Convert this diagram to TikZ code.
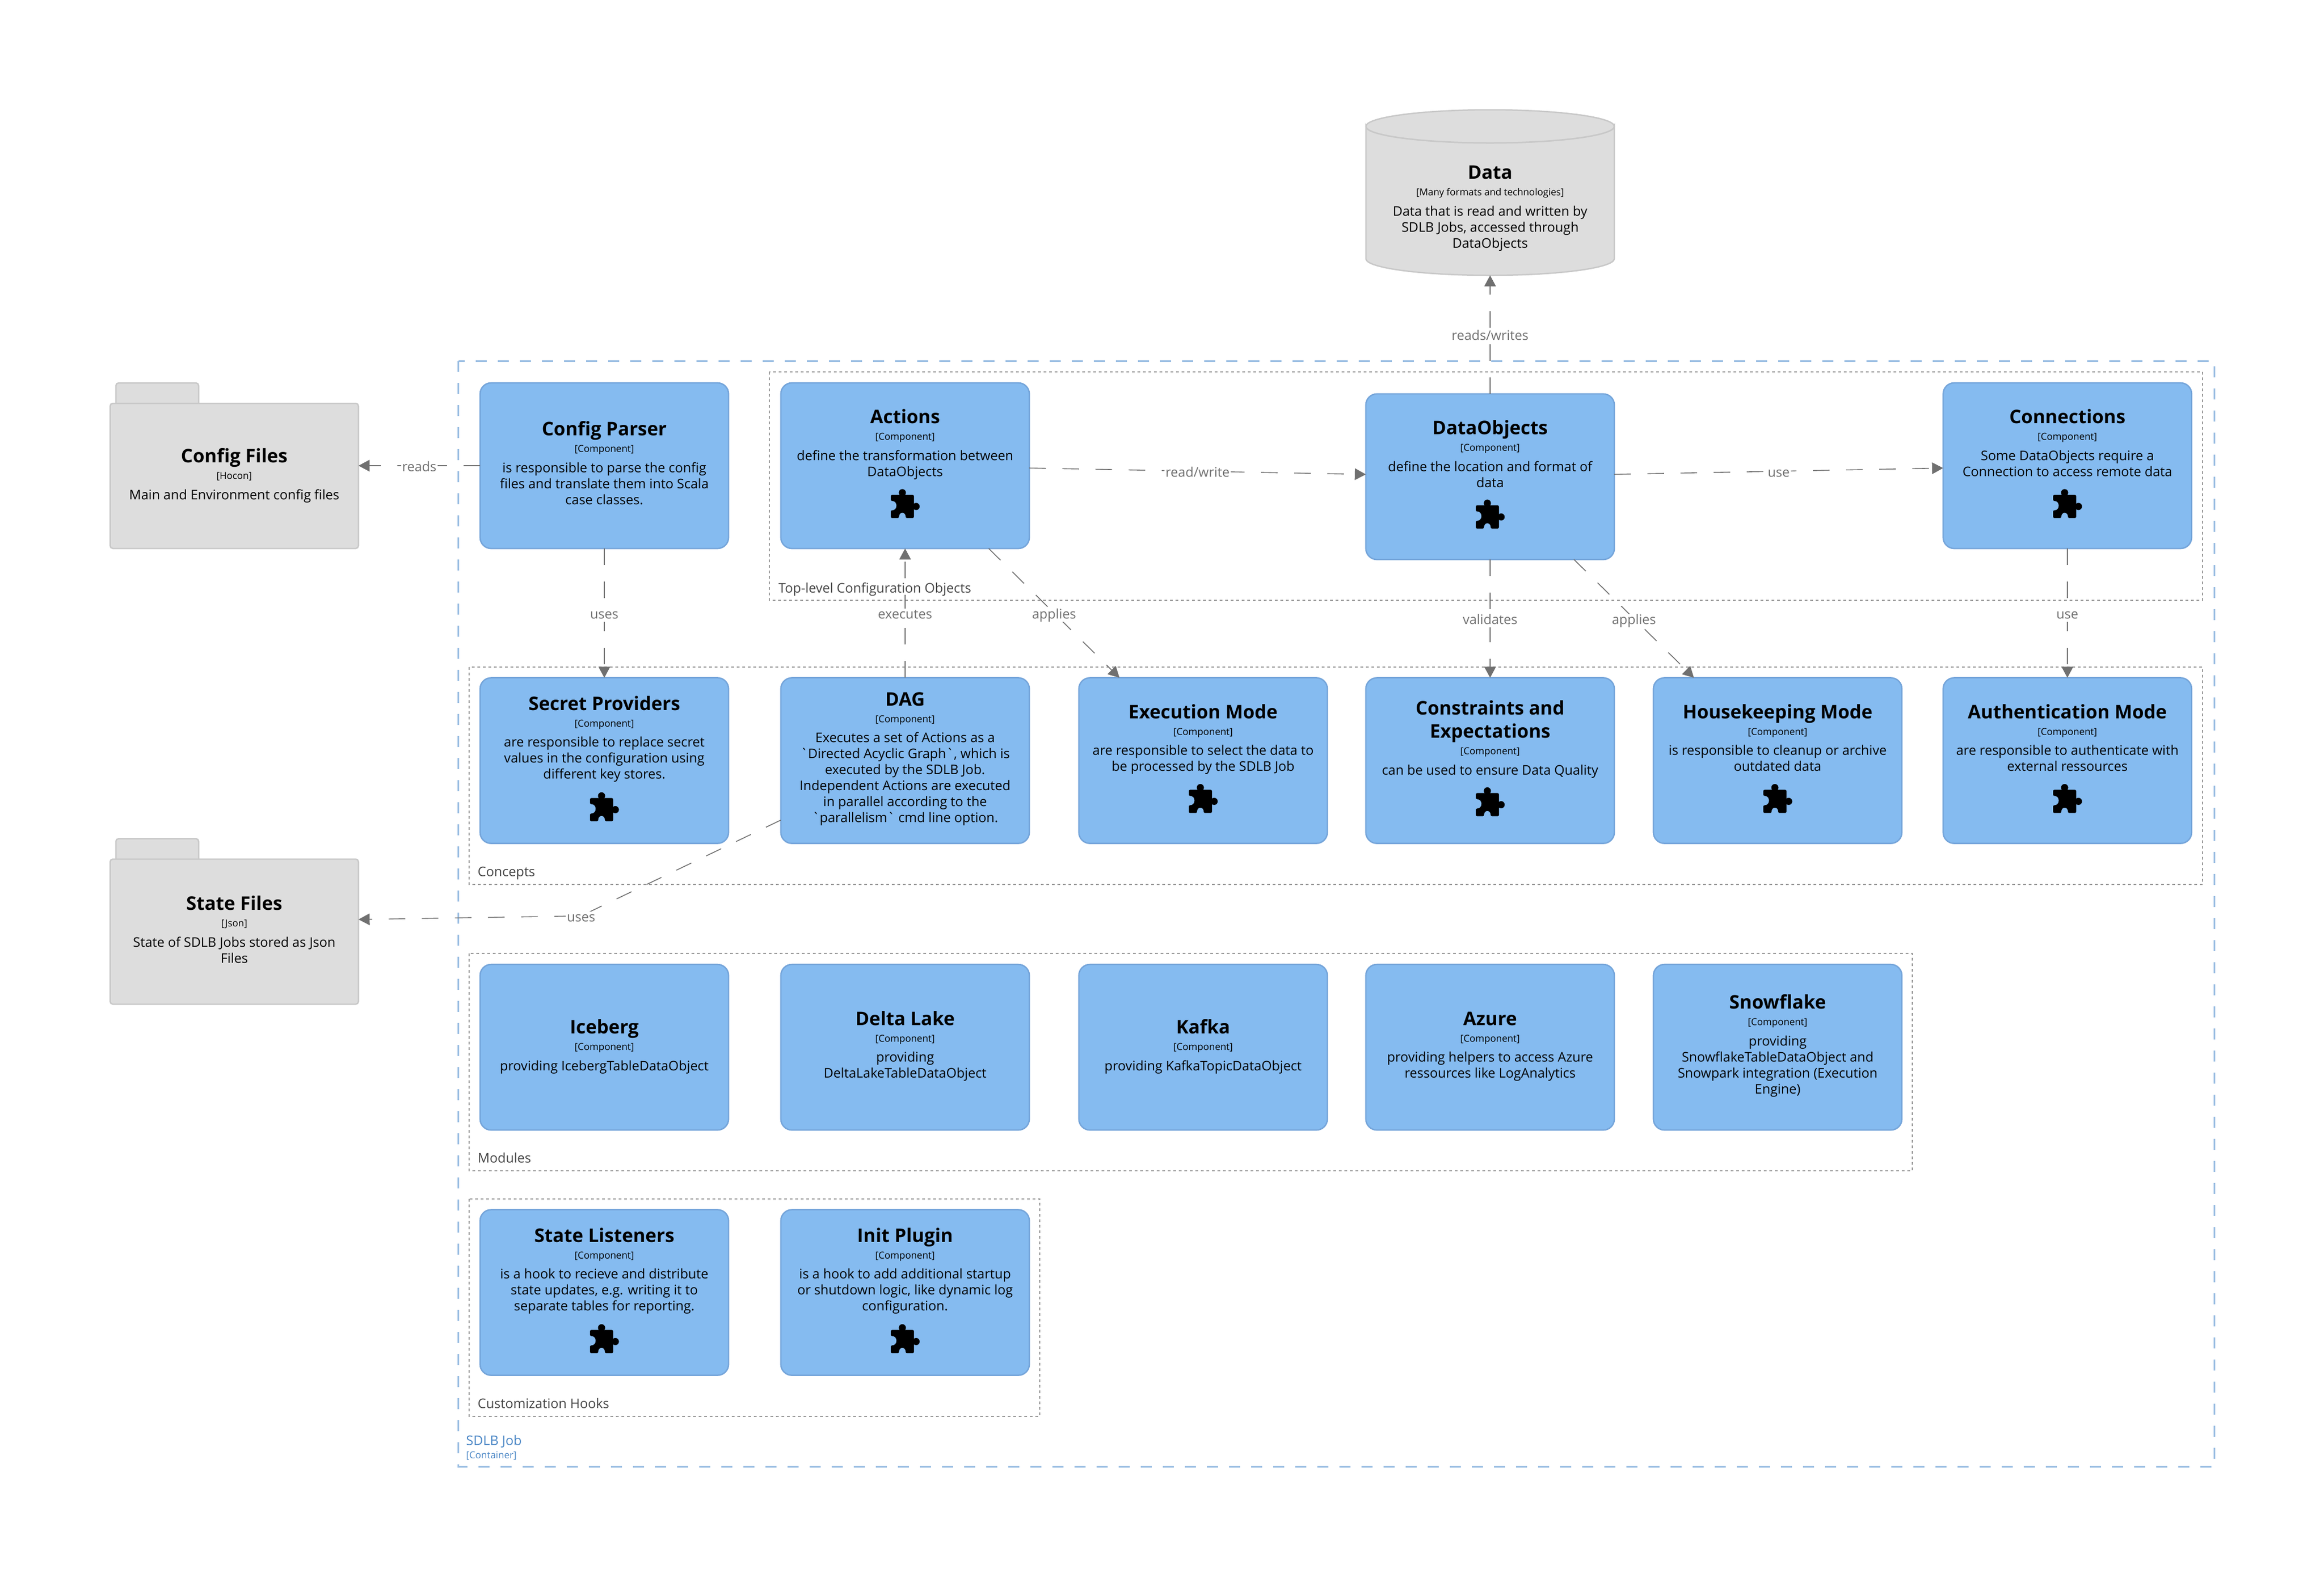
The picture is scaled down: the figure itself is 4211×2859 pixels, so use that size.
\documentclass[tikz,border=0pt]{standalone}
\usepackage{fontspec}
\setmainfont{Open Sans}
\usetikzlibrary{arrows.meta,calc}
\definecolor{compfill}{HTML}{85BBF0}
\definecolor{compline}{HTML}{75A5DA}
\definecolor{extfill}{HTML}{DDDDDD}
\definecolor{extline}{HTML}{C8C8C8}
\definecolor{relcol}{HTML}{707070}
\definecolor{contline}{HTML}{9CBFE3}
\definecolor{conttext}{HTML}{4A86C5}
\definecolor{grpline}{HTML}{999999}
\definecolor{grptext}{HTML}{444444}
\newdimen\pxu \pxu=0.01cm
\newcommand{\ftitle}{\fontsize{9.67}{11.95}\selectfont\bfseries}
\newcommand{\ftech}{\fontsize{4.95}{8.54}\selectfont}
\newcommand{\fdesc}{\fontsize{6.83}{8.25}\selectfont}
\newcommand{\flabel}{\fontsize{6.83}{8.25}\selectfont}
% #1 distance from the top of the element to the title's centre, #2 title, #3 tech, #4 description
\newcommand{\elbody}[4]{\parbox[c][3cm][t]{4.5cm}{\centering\lineskiplimit=-100pt
  \vspace*{\dimexpr #1\pxu-18\pxu\relax}%
  {\ftitle\rule{0pt}{30\pxu}#2\par}%
  {\ftech #3\par}\vspace{2pt}%
  {\fdesc #4\par}}}
\tikzset{
  x=0.01cm,y=-0.01cm,
  compbox/.style={draw=compline,fill=compfill,line width=2.5\pxu,rounded corners=0.2cm,
    minimum width=4.5cm,minimum height=3cm,inner sep=0pt,outer sep=0pt},
  extnode/.style={minimum width=4.5cm,minimum height=3cm,inner sep=0pt,outer sep=0pt},
  extshape/.style={draw=extline,fill=extfill,line width=2.5\pxu,rounded corners=0.05cm},
  contbox/.style={draw=contline,line width=3\pxu,dash pattern=on 20\pxu off 20\pxu},
  grpbox/.style={draw=grpline,line width=2\pxu,dash pattern=on 5\pxu off 5\pxu},
  grplabel/.style={anchor=base west,inner sep=0pt,text=grptext,font=\flabel},
  rel/.style={draw=relcol,line width=1.6\pxu,dash pattern=on 30\pxu off 30\pxu,
    -{Triangle[length=0.2cm,width=0.21cm]},color=relcol},
  rellabel/.style={fill=white,inner xsep=2\pxu,inner ysep=0pt,text=relcol,font=\flabel,
    text height=18\pxu,text depth=6\pxu,yshift=-4\pxu},
  pics/puzzle/.style={code={
    \fill[black,rounded corners=2.5\pxu] (-26,-16) -- (16,-16) -- (16,26) -- (1,26)
      .. controls (1,14) and (-11,14) .. (-11,26) -- (-26,26) -- (-26,12)
      .. controls (-13,12) and (-13,-5) .. (-26,-5) -- cycle;
    \fill[black] (-5,-20) circle[radius=6.5];
    \fill[black] (20,5) circle[radius=6.5];
  }},
}
\newcommand{\comp}[6][Component]{\node[compbox] (#2) at (#3) {\elbody{#4}{#5}{[#1]}{#6}};}
\newcommand{\puz}[2]{\pic at ($(#1.north)+(0,#2)$) {puzzle};}
\newcommand{\folder}[7]{%
  \draw[extshape] (#2-214.5,#3-150) rectangle (#2-64.5,#3-100);
  \draw[extshape] (#2-225,#3-113) rectangle (#2+225,#3+150);
  \node[extnode] (#1) at (#2,#3) {\elbody{#4}{#5}{#6}{#7}};}
\begin{document}
\begin{tikzpicture}
\useasboundingbox (0,0) rectangle (4211,2859);
% container and groups
\draw[contbox] (830.5,654) rectangle (4012,2658);
\node[anchor=base west,inner sep=0pt,text=conttext,font=\flabel] (lcont) at (844,2619) {SDLB Job};
\node[anchor=base west,inner sep=0pt,text=conttext,font=\ftech] (lconttech) at (844,2643) {[Container]};
\draw[grpbox] (1394,674) rectangle (3991,1088);
\node[grplabel] (ltop) at (1410,1074) {Top-level Configuration Objects};
\draw[grpbox] (850,1209) rectangle (3991,1603);
\node[grplabel] (lconcepts) at (865,1588) {Concepts};
\draw[grpbox] (850,1728) rectangle (3465,2122);
\node[grplabel] (lmodules) at (865,2107) {Modules};
\draw[grpbox] (850,2173) rectangle (1884,2567);
\node[grplabel] (lhooks) at (865,2552) {Customization Hooks};
% external elements
\folder{configfiles}{424.5}{844}{133}{Config Files}{[Hocon]}{Main and Environment config files}
\folder{statefiles}{424.5}{1670}{118}{State Files}{[Json]}{State of SDLB Jobs stored as Json\\Files}
\path[extshape,rounded corners=0pt] (2475,229) -- (2475,469) arc[start angle=180,end angle=0,x radius=225,y radius=30] -- (2925,229) arc[start angle=0,end angle=180,x radius=225,y radius=30] -- cycle;
\draw[extshape,rounded corners=0pt] (2700,229) ellipse[x radius=225,y radius=30];
\node[extnode] (data) at (2700,349) {\elbody{114}{Data}{[Many formats and technologies]}{Data that is read and written by\\SDLB Jobs, accessed through\\DataObjects}};
% components
\comp{configparser}{1095,844}{84}{Config Parser}{is responsible to parse the config\\files and translate them into Scala\\case classes.}
\comp{actions}{1640,844}{62}{Actions}{define the transformation between\\DataObjects}
\comp{dataobjects}{2700,864}{62}{DataObjects}{define the location and format of\\data}
\comp{connections}{3746,844}{62}{Connections}{Some DataObjects require a\\Connection to access remote data}
\comp{secret}{1095,1378.5}{47}{Secret Providers}{are responsible to replace secret\\values in the configuration using\\different key stores.}
\comp{dag}{1640,1378.5}{39}{DAG}{Executes a set of Actions as a\\\textasciigrave Directed Acyclic Graph\textasciigrave, which is\\executed by the SDLB Job.\\Independent Actions are executed\\in parallel according to the\\\textasciigrave parallelism\textasciigrave\ cmd line option.}
\comp{execmode}{2180,1378.5}{62}{Execution Mode}{are responsible to select the data to\\be processed by the SDLB Job}
\comp{constraints}{2700,1378.5}{55.5}{Constraints and\\Expectations}{can be used to ensure Data Quality}
\comp{housekeeping}{3221,1378.5}{62}{Housekeeping Mode}{is responsible to cleanup or archive\\outdated data}
\comp{authmode}{3746,1378.5}{62}{Authentication Mode}{are responsible to authenticate with\\external ressources}
\comp{iceberg}{1095,1898}{114}{Iceberg}{providing IcebergTableDataObject}
\comp{deltalake}{1640,1898}{98.5}{Delta Lake}{providing\\DeltaLakeTableDataObject}
\comp{kafka}{2180,1898}{114}{Kafka}{providing KafkaTopicDataObject}
\comp{azure}{2700,1898}{98.5}{Azure}{providing helpers to access Azure\\ressources like LogAnalytics}
\comp{snowflake}{3221,1898}{69}{Snowflake}{providing\\SnowflakeTableDataObject and\\Snowpark integration (Execution\\Engine)}
\comp{listeners}{1095,2342.5}{47}{State Listeners}{is a hook to recieve and distribute\\state updates, e.g. writing it to\\separate tables for reporting.}
\comp{initplugin}{1640,2342.5}{47}{Init Plugin}{is a hook to add additional startup\\or shutdown logic, like dynamic log\\configuration.}
% icons
\puz{actions}{219}\puz{dataobjects}{218}\puz{connections}{219}
\puz{secret}{234}\puz{execmode}{219}\puz{constraints}{225}\puz{housekeeping}{219}\puz{authmode}{219}
\puz{listeners}{234}\puz{initplugin}{234}
% connectors
\draw[rel] (configparser) -- node[rellabel] (lreads) {reads} (configfiles);
\draw[rel] (configparser) -- node[rellabel] (luses) {uses} (secret);
\draw[rel] (dataobjects) -- node[rellabel] (lrw) {reads/writes} (data);
\draw[rel] (actions) -- node[rellabel] (lreadwrite) {read/write} (dataobjects);
\draw[rel] (dataobjects) -- node[rellabel] (luse) {use} (connections);
\draw[rel] (actions) -- node[rellabel] (lapplies) {applies} (execmode);
\draw[rel] (dag) -- node[rellabel] (lexec) {executes} (actions);
\draw[rel] (dataobjects) -- node[rellabel] (lvalid) {validates} (constraints);
\draw[rel] (dataobjects) -- node[rellabel] (lapplies2) {applies} (housekeeping);
\draw[rel] (connections) -- node[rellabel] (luse2) {use} (authmode);
\coordinate (dagbend) at (1053,1660);
\draw[rel] (dag) -- (dagbend) -- (statefiles);
\node[rellabel] (luses2) at (dagbend) {uses};
\end{tikzpicture}
\end{document}
